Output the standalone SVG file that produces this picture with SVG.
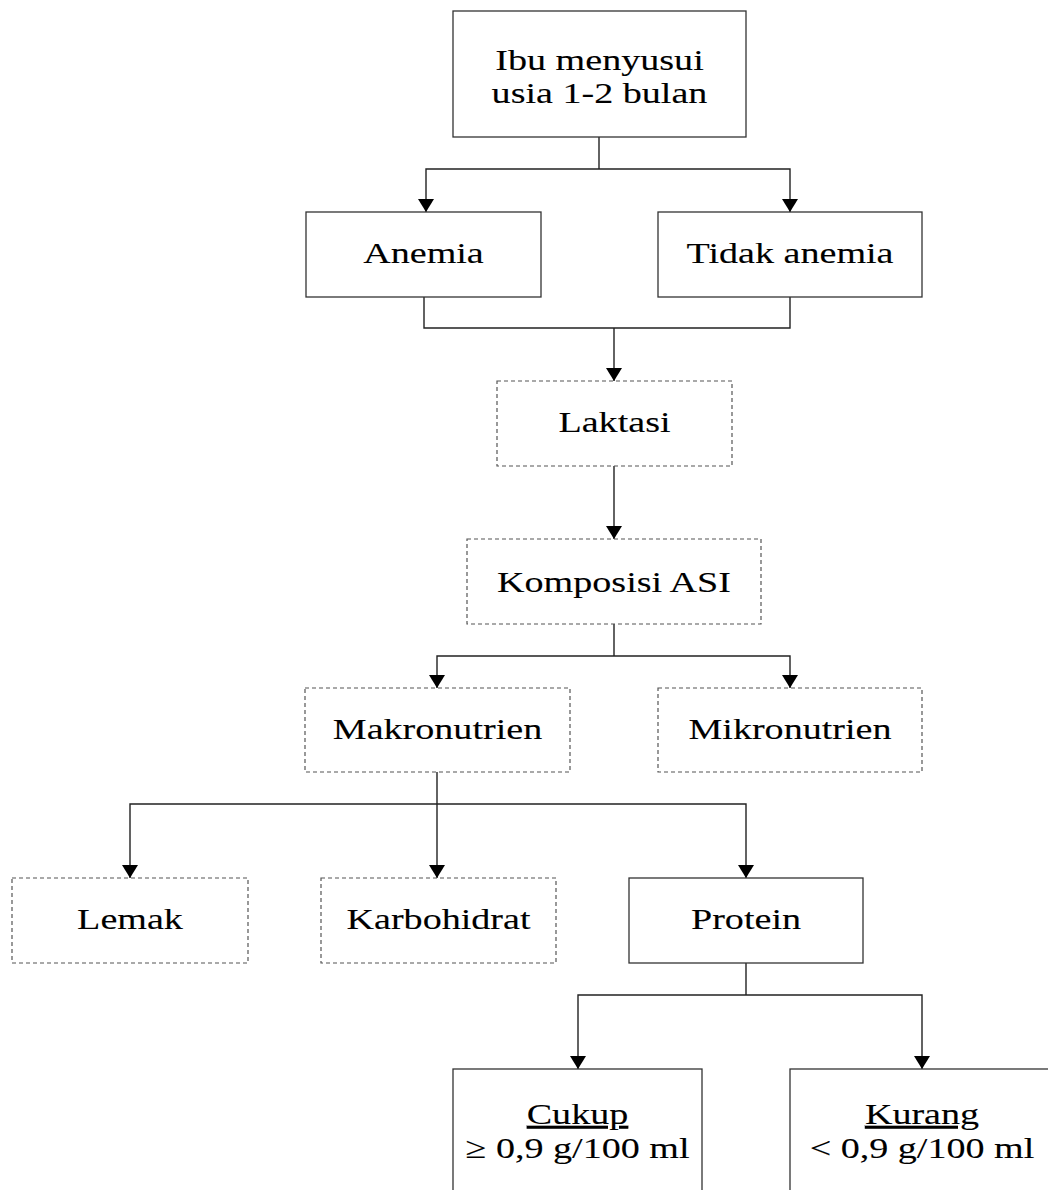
<svg xmlns="http://www.w3.org/2000/svg" width="1048" height="1190" viewBox="0 0 1048 1190">
<defs>
<marker id="arr" viewBox="0 0 13 16" refX="13" refY="8" markerWidth="13" markerHeight="16" markerUnits="userSpaceOnUse" orient="auto">
<path d="M0,0 L13,8 L0,16 Z" fill="#000"/>
</marker>
<style>
.solid{fill:#fff;stroke:#333;stroke-width:1.3}
.dash{fill:#fff;stroke:#555;stroke-width:1.2;stroke-dasharray:4 3}
.t{font-family:"Liberation Serif","Times New Roman",serif;font-size:30px;fill:#000;stroke:#000;stroke-width:0.1;text-anchor:middle}
.c{fill:none;stroke:#222;stroke-width:1.4}
.a{fill:none;stroke:#222;stroke-width:1.4;marker-end:url(#arr)}
</style>
</defs>
<rect width="1048" height="1190" fill="#fff"/>
<g id="connectors">
<path class="c" d="M599,137 V169"/>
<path class="a" d="M599,169 H426 V212"/>
<path class="a" d="M599,169 H790 V212"/>
<path class="c" d="M424,297 V328 H790 V297"/>
<path class="a" d="M614,328 V381"/>
<path class="a" d="M614,466 V539"/>
<path class="c" d="M614,624 V656"/>
<path class="a" d="M614,656 H437 V688"/>
<path class="a" d="M614,656 H790 V688"/>
<path class="c" d="M437,772 V804"/>
<path class="a" d="M437,804 H130 V878"/>
<path class="a" d="M437,804 V878"/>
<path class="a" d="M437,804 H746 V878"/>
<path class="c" d="M746,963 V995"/>
<path class="a" d="M746,995 H578 V1069"/>
<path class="a" d="M746,995 H922 V1069"/>
</g>
<g id="ibu">
<rect class="solid" x="453" y="11" width="293" height="126"/>
<text class="t" transform="translate(599.5,70) scale(1.27,1)">Ibu menyusui</text>
<text class="t" transform="translate(599.5,103) scale(1.27,1)">usia 1-2 bulan</text>
</g>
<g id="anemia">
<rect class="solid" x="306" y="212" width="235" height="85"/>
<text class="t" transform="translate(423.5,263) scale(1.27,1)">Anemia</text>
</g>
<g id="tidak-anemia">
<rect class="solid" x="658" y="212" width="264" height="85"/>
<text class="t" transform="translate(790,263) scale(1.27,1)">Tidak anemia</text>
</g>
<g id="laktasi">
<rect class="dash" x="497" y="381" width="235" height="85"/>
<text class="t" transform="translate(614.5,432) scale(1.27,1)">Laktasi</text>
</g>
<g id="komposisi">
<rect class="dash" x="467" y="539" width="294" height="85"/>
<text class="t" transform="translate(614,592) scale(1.27,1)">Komposisi ASI</text>
</g>
<g id="makronutrien">
<rect class="dash" x="305" y="688" width="265" height="84"/>
<text class="t" transform="translate(437.5,739) scale(1.27,1)">Makronutrien</text>
</g>
<g id="mikronutrien">
<rect class="dash" x="658" y="688" width="264" height="84"/>
<text class="t" transform="translate(790,739) scale(1.27,1)">Mikronutrien</text>
</g>
<g id="lemak">
<rect class="dash" x="12" y="878" width="236" height="85"/>
<text class="t" transform="translate(130,929) scale(1.27,1)">Lemak</text>
</g>
<g id="karbohidrat">
<rect class="dash" x="321" y="878" width="235" height="85"/>
<text class="t" transform="translate(438.5,929) scale(1.27,1)">Karbohidrat</text>
</g>
<g id="protein">
<rect class="solid" x="629" y="878" width="234" height="85"/>
<text class="t" transform="translate(746,929) scale(1.27,1)">Protein</text>
</g>
<g id="cukup">
<rect class="solid" x="453" y="1069" width="249" height="140"/>
<text class="t" text-decoration="underline" transform="translate(577.5,1124) scale(1.27,1)">Cukup</text>
<text class="t" transform="translate(577.5,1158) scale(1.27,1)">≥ 0,9 g/100 ml</text>
</g>
<g id="kurang">
<rect class="solid" x="790" y="1069" width="264" height="140"/>
<text class="t" text-decoration="underline" transform="translate(922,1124) scale(1.27,1)">Kurang</text>
<text class="t" transform="translate(922,1158) scale(1.27,1)">&lt; 0,9 g/100 ml</text>
</g>
</svg>
